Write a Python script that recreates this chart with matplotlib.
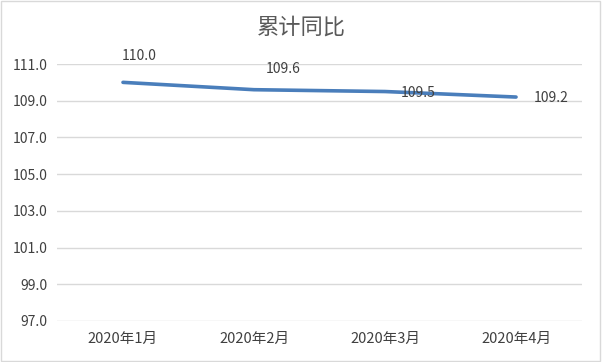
import matplotlib
matplotlib.use("Agg")
import matplotlib.pyplot as plt
from matplotlib.patches import Rectangle

plt.rcParams['font.family'] = ['Noto Sans CJK SC', 'DejaVu Sans']

# data
months = ['2020年1月', '2020年2月', '2020年3月', '2020年4月']
values = [110.0, 109.6, 109.5, 109.2]
yticks = [97.0, 99.0, 101.0, 103.0, 105.0, 107.0, 109.0, 111.0]
# label offsets (points) roughly like the excel placement
label_offsets = [(12, 19), (21, 15), (24, -1), (25, -1)]

fig = plt.figure(figsize=(6.02, 3.62), dpi=100)
ax = fig.add_axes([0.0955, 0.1133, 0.8705, 0.7099])

x = list(range(len(months)))
ax.plot(x, values, color='#4a7ebb', linewidth=2.6, solid_capstyle='round')

for xi, v, off in zip(x, values, label_offsets):
    ax.annotate(f'{v:.1f}', (xi, v), xytext=off, textcoords='offset points',
                ha='center', va='center', fontsize=10, color='#404040')

ax.set_xlim(-0.5, len(months) - 0.5)
ax.set_ylim(97, 111)
ax.set_yticks(yticks)
ax.set_yticklabels([f'{t:.1f}' for t in yticks])
ax.set_xticks(x)
ax.set_xticklabels(months)
ax.grid(axis='y', color='#d9d9d9', linewidth=1)
ax.set_axisbelow(True)
for s in ax.spines.values():
    s.set_visible(False)
ax.tick_params(axis='both', length=0, colors='#404040')
ax.tick_params(axis='x', pad=8, labelsize=10.5)
ax.tick_params(axis='y', pad=7, labelsize=10)

fig.text(0.5, 0.925, '累计同比', ha='center', va='center', fontsize=16, color='#595959')

fig.patches.append(Rectangle((0.002, 0.003), 0.995, 0.993, transform=fig.transFigure,
                             fill=False, edgecolor='#d9d9d9', linewidth=1))

fig.savefig('out.png', dpi=100)
